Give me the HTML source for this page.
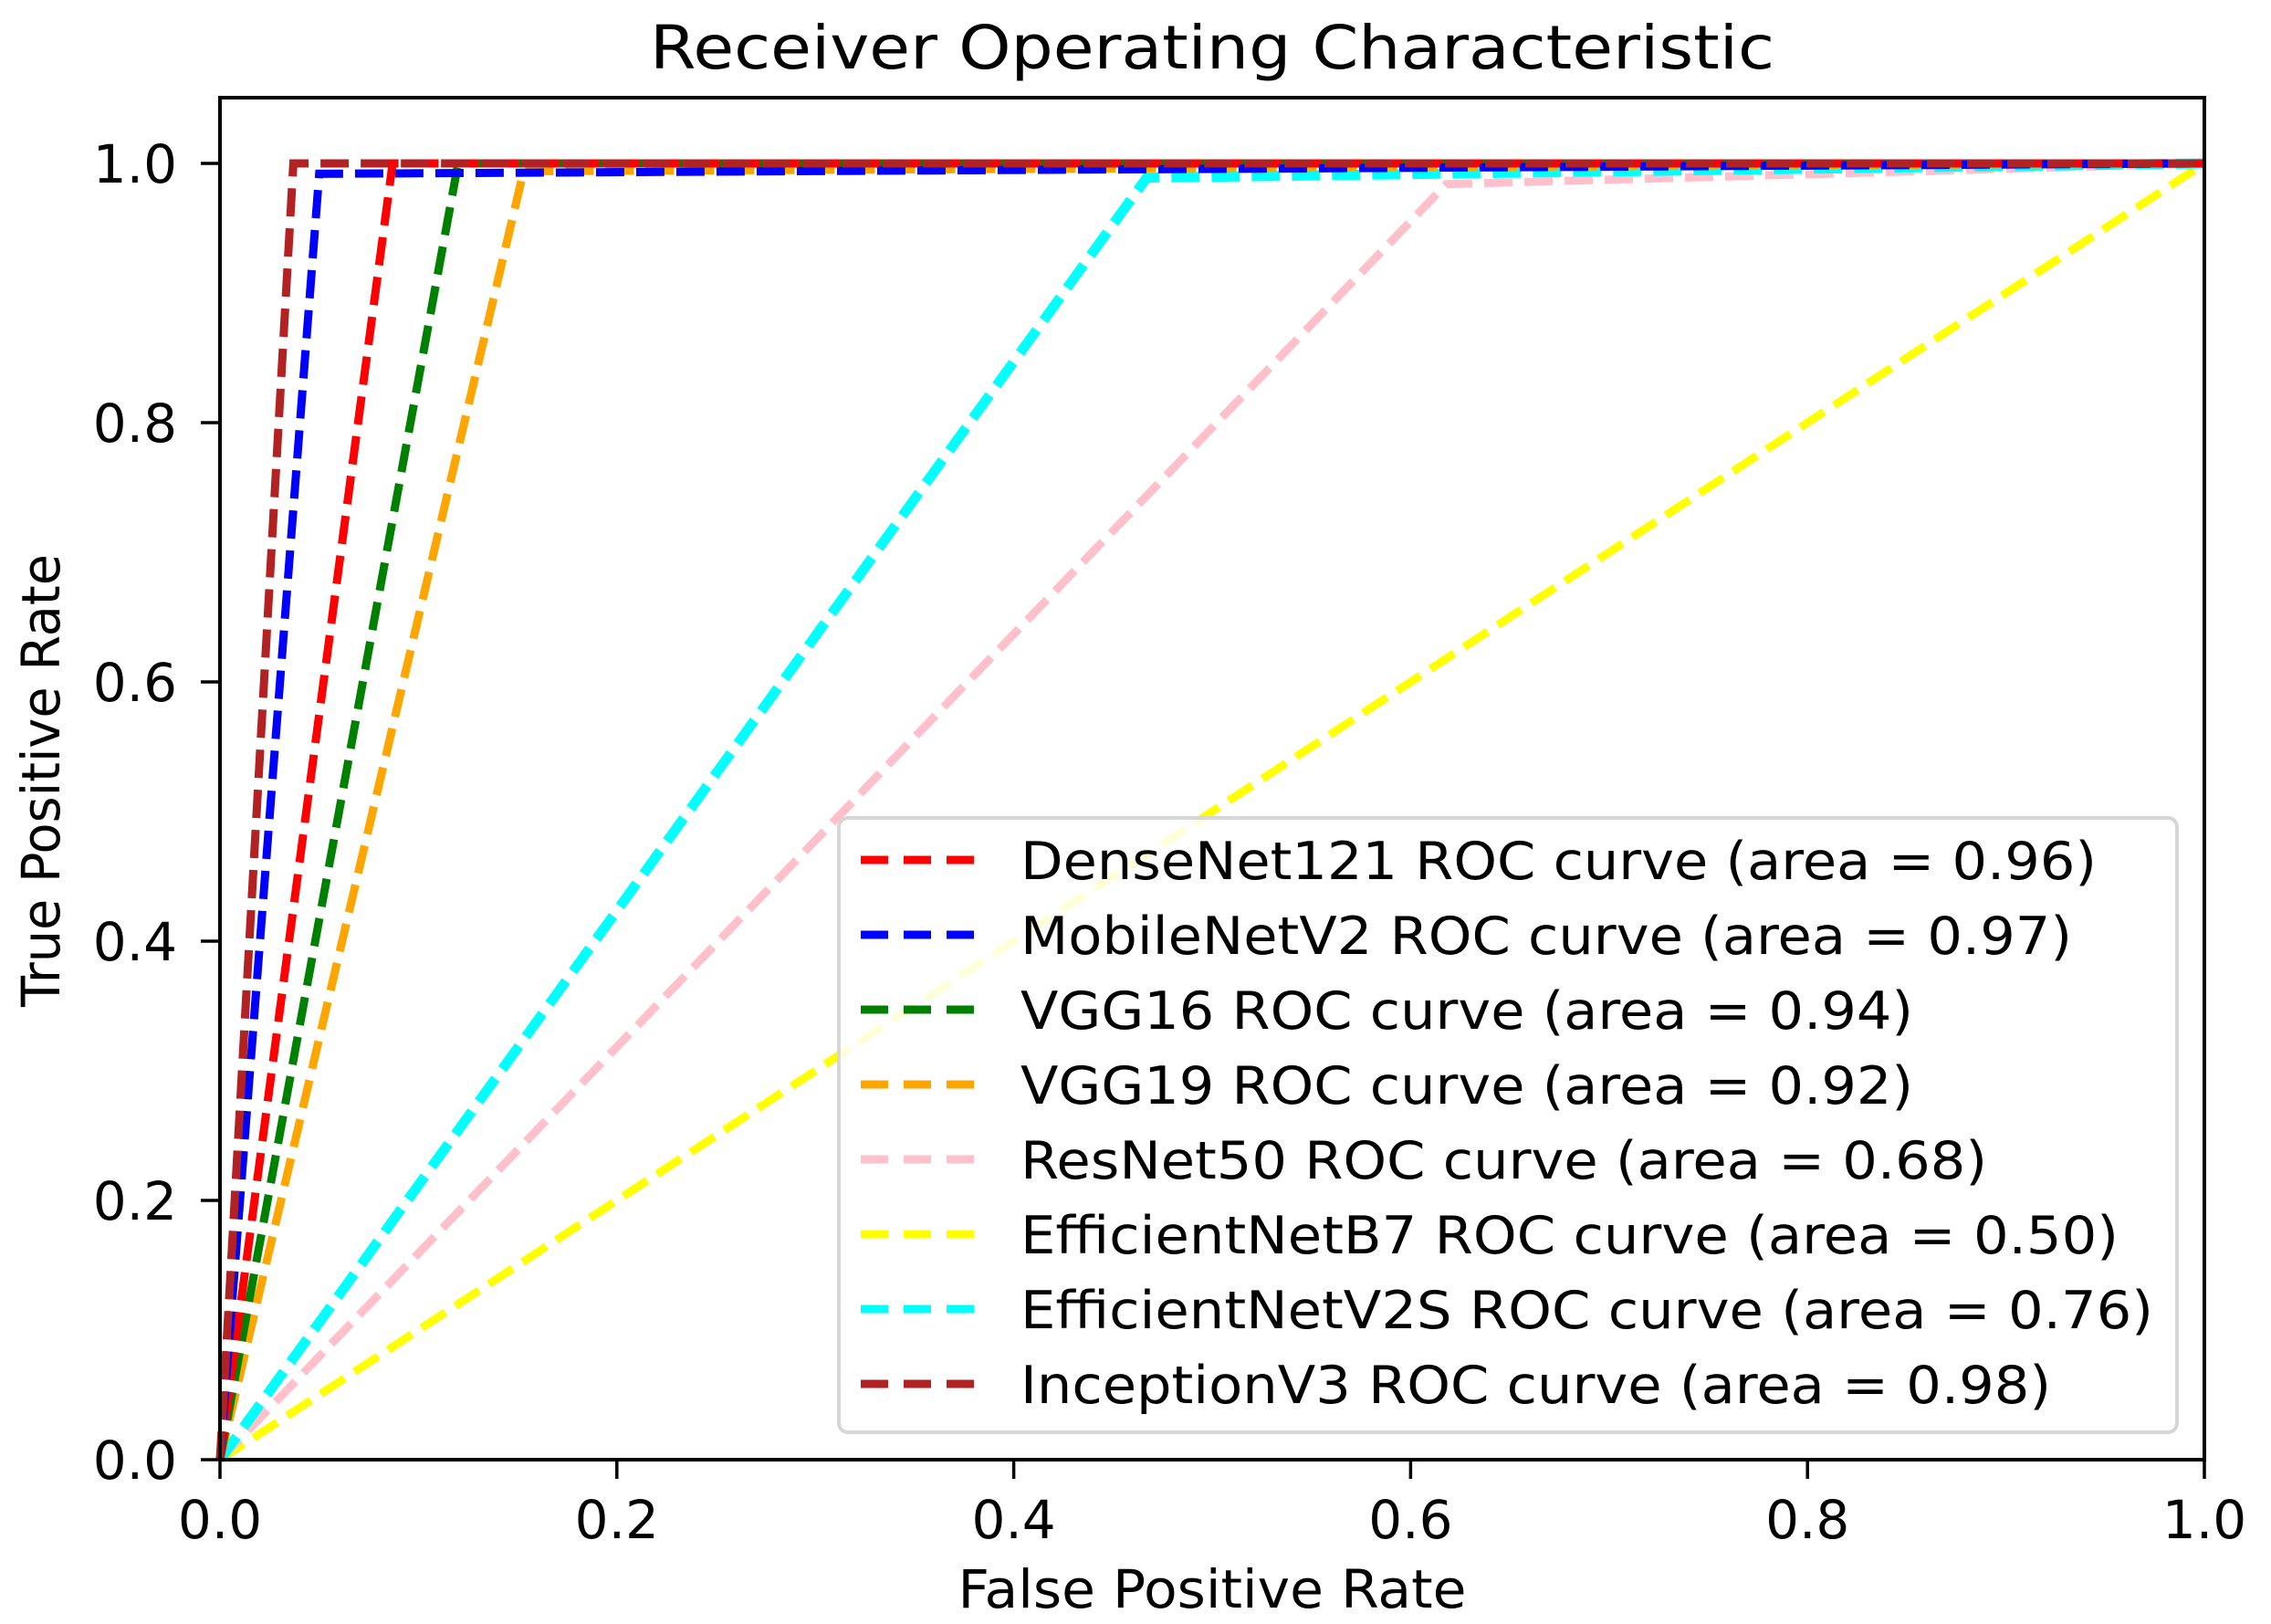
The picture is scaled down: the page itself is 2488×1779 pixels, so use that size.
<!DOCTYPE html>
<html><head><meta charset="utf-8"><style>
html,body{margin:0;padding:0;background:#fff;}
svg{display:block;font-family:"DejaVu Sans","Liberation Sans",sans-serif;}
</style></head><body>
<svg id="chart" width="2488" height="1779" viewBox="0 0 2488 1779" xmlns="http://www.w3.org/2000/svg">
<rect width="2488" height="1779" fill="#fff"/>
<text x="1328" y="75" font-size="66" text-anchor="middle" textLength="1232" lengthAdjust="spacingAndGlyphs">Receiver Operating Characteristic</text>
<g id="lines"></g>
<rect x="241" y="107" width="2174" height="1492" fill="none" stroke="#000" stroke-width="4"/>
<g id="ticks"></g>
<text x="1328" y="1761" font-size="58" text-anchor="middle" textLength="557" lengthAdjust="spacingAndGlyphs">False Positive Rate</text>
<text transform="translate(65,855) rotate(-90)" font-size="58" text-anchor="middle" textLength="496" lengthAdjust="spacingAndGlyphs">True Positive Rate</text>
<g id="legend"></g>
</svg>
<script>
const models = ["DenseNet121","MobileNetV2","VGG16","VGG19","ResNet50","EfficientNetB7","EfficientNetV2S","InceptionV3"];
const colors = ["#ff0000","#0000ff","#008000","#ffa500","#ffc0cb","#ffff00","#00ffff","#b22222"];
const aucs = ["0.96","0.97","0.94","0.92","0.68","0.50","0.76","0.98"];
const cornerFpr = [0.087,0.050,0.120,0.153,0.618,0.5,0.467,0.037];
const cornerTpr = [1.0,0.992,1.0,0.994,0.984,0.5,0.989,1.0];
const xTicks = [0,0.2,0.4,0.6,0.8,1.0];
const yTicks = [0,0.2,0.4,0.6,0.8,1.0];
const xTickLabels = ["0.0","0.2","0.4","0.6","0.8","1.0"];
const yTickLabels = ["0.0","0.2","0.4","0.6","0.8","1.0"];
const legendWidths = [1179,1152,978,978,1059,1203,1241,1129];

const NS="http://www.w3.org/2000/svg";
const X0=241,X1=2415,Y0=1599,Y1=179;
const sx=v=>X0+v*(X1-X0);
const sy=v=>Y0-v*(Y0-Y1);
function mk(tag,attrs,parent){const e=document.createElementNS(NS,tag);for(const k in attrs)e.setAttribute(k,attrs[k]);parent.appendChild(e);return e;}
const lines=document.getElementById('lines');
const drawOrder=[5,4,6,3,2,0,1,7];
drawOrder.forEach(i=>{
  const pts=[[0,0],[cornerFpr[i],cornerTpr[i]],[1,1]].map(p=>sx(p[0]).toFixed(1)+','+sy(p[1]).toFixed(1)).join(' ');
  const w=i===6?11:9;
  const el=mk('polyline',{points:pts,fill:'none',stroke:colors[i],'stroke-width':w,'stroke-dasharray':'31 13'},lines);
  
  
});
const ticks=document.getElementById('ticks');
xTicks.forEach((v,i)=>{
  const t=mk('line',{x1:sx(v),x2:sx(v),y1:Y0,y2:Y0+21,stroke:'#000','stroke-width':3.5},ticks);
  
  
  const l=mk('text',{x:sx(v),y:1685,'font-size':58,'text-anchor':'middle'},ticks);
  l.textContent=xTickLabels[i];
  
  
});
yTicks.forEach((v,i)=>{
  const t=mk('line',{x1:X0-21,x2:X0,y1:sy(v),y2:sy(v),stroke:'#000','stroke-width':3.5},ticks);
  
  
  const l=mk('text',{x:194,y:sy(v)+21,'font-size':58,'text-anchor':'end'},ticks);
  l.textContent=yTickLabels[i];
  
  
});
const leg=document.getElementById('legend');
const box=mk('rect',{x:919,y:896,width:1466,height:673,rx:10,fill:'#fff','fill-opacity':0.85,stroke:'#d6d6d6','stroke-width':4},leg);


models.forEach((m,i)=>{
  const cy=942+i*82;
  const g=mk('g',{},leg);
  
  
  mk('line',{x1:943,x2:1067,y1:cy,y2:cy,stroke:colors[i],'stroke-width':9,'stroke-dasharray':'30 17'},g);
  const t=mk('text',{x:1118,y:cy+21,'font-size':57,textLength:legendWidths[i],lengthAdjust:'spacingAndGlyphs'},g);
  t.textContent=m+' ROC curve (area = '+aucs[i]+')';
});
</script>
</body></html>
